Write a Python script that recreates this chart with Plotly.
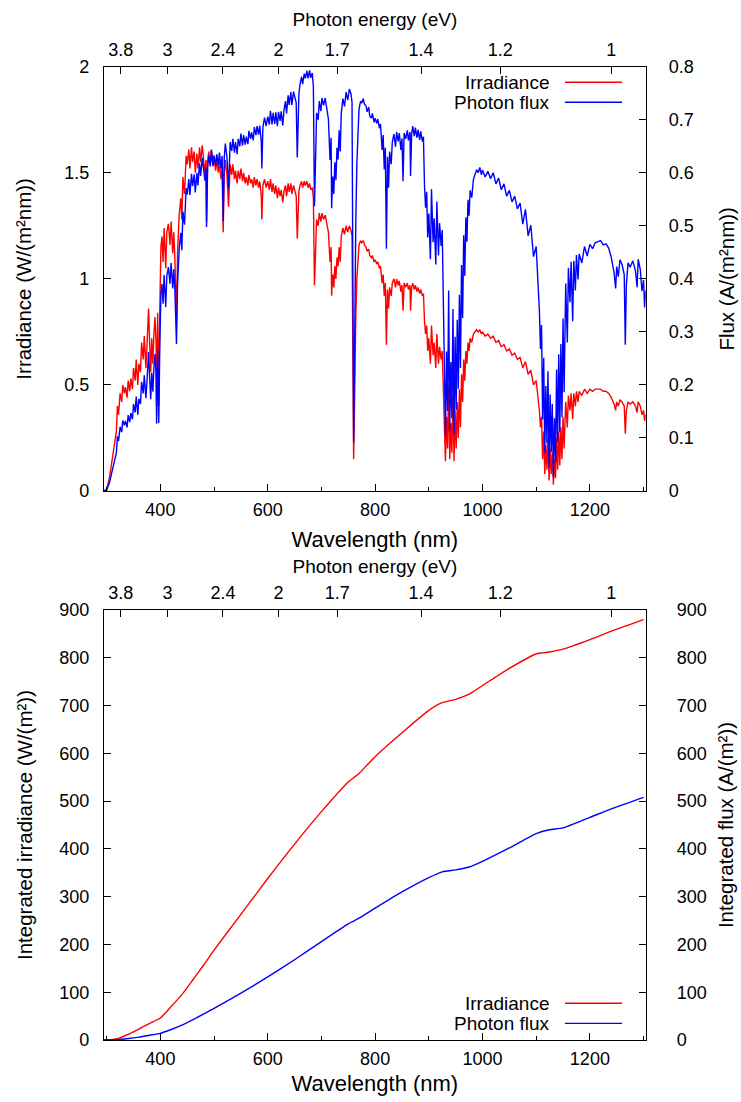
import plotly.graph_objects as go

# ---------------- data ----------------
wavelength_nm = [
    295, 300, 305, 310, 315, 318, 320, 322, 325, 328, 330, 333, 335, 338, 340, 343, 345, 348, 350, 353,
    355, 358, 360, 363, 365, 368, 370, 373, 375, 378, 380, 382, 384, 386, 388, 390, 392, 393, 395, 397,
    399, 401, 403, 405, 407, 410, 412, 415, 418, 420, 423, 425, 427, 430, 432, 435, 438, 440, 442, 445,
    448, 450, 453, 455, 458, 460, 463, 465, 468, 470, 473, 475, 478, 480, 483, 485, 486, 488, 490, 493,
    495, 498, 500, 503, 505, 508, 510, 513, 515, 517, 519, 521, 524, 527, 530, 533, 535, 538, 540, 543,
    545, 548, 550, 553, 555, 558, 560, 563, 565, 568, 570, 573, 575, 578, 580, 583, 585, 588, 589, 591,
    594, 597, 600, 603, 605, 608, 610, 613, 615, 618, 620, 623, 625, 628, 630, 633, 635, 638, 640, 643,
    645, 648, 650, 653, 655, 658, 660, 663, 665, 668, 670, 673, 675, 678, 680, 683, 685, 686, 687, 689,
    691, 694, 696, 699, 701, 704, 707, 710, 713, 716, 718, 719, 721, 723, 725, 727, 729, 731, 733, 735,
    737, 740, 743, 746, 749, 752, 755, 757, 758, 759, 760, 761, 762, 764, 766, 768, 770, 773, 775, 778,
    780, 783, 785, 788, 790, 793, 795, 798, 800, 803, 805, 808, 810, 813, 815, 817, 819, 821, 823, 825,
    827, 830, 832, 835, 838, 840, 843, 845, 848, 850, 852, 854, 857, 860, 862, 865, 866, 868, 870, 873,
    875, 878, 880, 883, 885, 888, 890, 892, 894, 896, 898, 900, 903, 905, 908, 910, 913, 915, 918, 920,
    923, 925, 927, 929, 931, 933, 935, 937, 939, 941, 943, 945, 947, 949, 951, 953, 955, 957, 959, 961,
    963, 965, 967, 969, 971, 973, 975, 977, 980, 983, 986, 989, 992, 995, 998, 1000, 1005, 1010, 1015, 1020,
    1025, 1030, 1035, 1040, 1045, 1050, 1055, 1060, 1065, 1070, 1075, 1080, 1085, 1090, 1095, 1100, 1103, 1106, 1108, 1110,
    1112, 1114, 1116, 1118, 1120, 1122, 1124, 1126, 1128, 1130, 1132, 1134, 1136, 1138, 1140, 1142, 1144, 1146, 1148, 1150,
    1152, 1155, 1158, 1160, 1163, 1165, 1168, 1170, 1173, 1175, 1178, 1180, 1185, 1190, 1195, 1200, 1205, 1210, 1215, 1220,
    1225, 1230, 1235, 1240, 1245, 1248, 1250, 1253, 1256, 1260, 1264, 1266, 1268, 1271, 1275, 1280, 1285, 1288, 1290, 1294,
    1297, 1300, 1302, 1304,
]

irradiance = [
    0.00, 0.01, 0.06, 0.15, 0.24, 0.28, 0.40, 0.36, 0.46, 0.42, 0.50, 0.46, 0.49, 0.44, 0.52, 0.47, 0.53, 0.48, 0.58, 0.52,
    0.62, 0.50, 0.60, 0.56, 0.70, 0.62, 0.73, 0.58, 0.68, 0.86, 0.70, 0.56, 0.72, 0.60, 0.74, 0.82, 0.70, 0.40, 0.84, 0.40,
    0.86, 1.15, 1.20, 1.08, 1.24, 1.05, 1.22, 1.26, 1.16, 1.27, 1.12, 1.22, 1.10, 0.80, 1.12, 1.30, 1.38, 1.28, 1.48, 1.40,
    1.58, 1.54, 1.61, 1.52, 1.62, 1.55, 1.60, 1.50, 1.59, 1.52, 1.62, 1.55, 1.63, 1.57, 1.50, 1.56, 1.27, 1.55, 1.60, 1.54,
    1.61, 1.53, 1.57, 1.51, 1.56, 1.50, 1.55, 1.47, 1.52, 1.22, 1.50, 1.56, 1.49, 1.34, 1.54, 1.49, 1.54, 1.47, 1.51, 1.45,
    1.51, 1.47, 1.52, 1.46, 1.50, 1.45, 1.48, 1.44, 1.49, 1.45, 1.47, 1.43, 1.48, 1.44, 1.47, 1.43, 1.46, 1.39, 1.28, 1.44,
    1.47, 1.43, 1.46, 1.42, 1.47, 1.41, 1.45, 1.40, 1.44, 1.38, 1.43, 1.39, 1.42, 1.36, 1.41, 1.44, 1.39, 1.45, 1.41, 1.45,
    1.40, 1.44, 1.42, 1.39, 1.19, 1.41, 1.44, 1.46, 1.43, 1.46, 1.44, 1.46, 1.43, 1.45, 1.42, 1.43, 1.38, 1.15, 0.97, 1.12,
    1.28, 1.25, 1.31, 1.27, 1.31, 1.28, 1.30, 1.26, 1.22, 1.08, 1.15, 0.92, 1.02, 0.96, 1.06, 1.00, 1.10, 1.06, 1.15, 1.08,
    1.20, 1.24, 1.21, 1.25, 1.22, 1.25, 1.23, 1.20, 0.90, 0.45, 0.15, 0.30, 0.55, 0.82, 1.00, 1.10, 1.16, 1.18, 1.17, 1.18,
    1.16, 1.15, 1.13, 1.14, 1.11, 1.10, 1.11, 1.08, 1.09, 1.07, 1.08, 1.05, 1.06, 0.98, 1.02, 0.92, 0.98, 0.69, 0.95, 0.86,
    0.96, 0.92, 0.98, 1.00, 0.96, 1.00, 0.97, 0.99, 0.94, 0.97, 0.85, 0.98, 0.96, 0.98, 0.95, 0.97, 0.85, 0.96, 0.98, 0.95,
    0.97, 0.94, 0.96, 0.93, 0.95, 0.92, 0.93, 0.80, 0.74, 0.78, 0.66, 0.72, 0.60, 0.78, 0.64, 0.70, 0.58, 0.74, 0.60, 0.68,
    0.62, 0.66, 0.45, 0.25, 0.14, 0.35, 0.20, 0.50, 0.15, 0.32, 0.18, 0.45, 0.14, 0.38, 0.20, 0.42, 0.25, 0.48, 0.30, 0.55,
    0.42, 0.62, 0.52, 0.66, 0.60, 0.70, 0.66, 0.72, 0.70, 0.74, 0.75, 0.76, 0.75, 0.76, 0.74, 0.75, 0.73, 0.74, 0.72, 0.73,
    0.70, 0.71, 0.68, 0.69, 0.66, 0.67, 0.64, 0.65, 0.62, 0.63, 0.58, 0.61, 0.55, 0.57, 0.50, 0.52, 0.45, 0.38, 0.30, 0.35,
    0.15, 0.28, 0.08, 0.22, 0.10, 0.25, 0.05, 0.20, 0.08, 0.18, 0.03, 0.15, 0.06, 0.25, 0.10, 0.28, 0.12, 0.30, 0.15, 0.35,
    0.20, 0.42, 0.30, 0.45, 0.38, 0.46, 0.34, 0.46, 0.40, 0.47, 0.42, 0.47, 0.45, 0.48, 0.46, 0.48, 0.47, 0.48, 0.48, 0.48,
    0.47, 0.47, 0.46, 0.44, 0.41, 0.38, 0.42, 0.40, 0.43, 0.42, 0.40, 0.27, 0.38, 0.42, 0.41, 0.42, 0.40, 0.37, 0.42, 0.40,
    0.36, 0.38, 0.33, 0.36,
]

photon_flux = [
    0.000, 0.002, 0.015, 0.038, 0.061, 0.072, 0.103, 0.094, 0.121, 0.111, 0.133, 0.124, 0.132, 0.120, 0.143, 0.130, 0.147, 0.135, 0.164, 0.148,
    0.178, 0.144, 0.174, 0.164, 0.206, 0.184, 0.218, 0.175, 0.206, 0.262, 0.215, 0.173, 0.223, 0.187, 0.232, 0.258, 0.221, 0.127, 0.268, 0.128,
    0.277, 0.372, 0.390, 0.353, 0.407, 0.347, 0.405, 0.422, 0.391, 0.430, 0.382, 0.418, 0.379, 0.277, 0.390, 0.456, 0.487, 0.454, 0.527, 0.502,
    0.571, 0.559, 0.588, 0.558, 0.598, 0.575, 0.597, 0.563, 0.600, 0.576, 0.618, 0.594, 0.628, 0.608, 0.585, 0.610, 0.498, 0.610, 0.632, 0.612,
    0.643, 0.614, 0.633, 0.613, 0.635, 0.615, 0.638, 0.608, 0.632, 0.509, 0.628, 0.655, 0.630, 0.570, 0.658, 0.641, 0.664, 0.638, 0.658, 0.635,
    0.664, 0.650, 0.674, 0.651, 0.671, 0.653, 0.668, 0.654, 0.679, 0.664, 0.676, 0.661, 0.686, 0.671, 0.688, 0.672, 0.689, 0.659, 0.608, 0.686,
    0.704, 0.688, 0.706, 0.691, 0.717, 0.691, 0.713, 0.692, 0.714, 0.688, 0.715, 0.698, 0.716, 0.689, 0.716, 0.735, 0.712, 0.746, 0.728, 0.752,
    0.728, 0.753, 0.744, 0.732, 0.629, 0.748, 0.766, 0.781, 0.767, 0.787, 0.778, 0.792, 0.778, 0.793, 0.779, 0.788, 0.762, 0.636, 0.537, 0.622,
    0.713, 0.700, 0.735, 0.716, 0.741, 0.727, 0.741, 0.721, 0.701, 0.624, 0.666, 0.533, 0.593, 0.560, 0.620, 0.586, 0.647, 0.625, 0.680, 0.640,
    0.713, 0.740, 0.725, 0.752, 0.737, 0.758, 0.749, 0.733, 0.550, 0.276, 0.092, 0.184, 0.338, 0.505, 0.618, 0.681, 0.720, 0.735, 0.731, 0.740,
    0.730, 0.726, 0.715, 0.724, 0.707, 0.703, 0.712, 0.695, 0.703, 0.693, 0.701, 0.684, 0.692, 0.643, 0.671, 0.606, 0.647, 0.457, 0.630, 0.572,
    0.640, 0.616, 0.658, 0.673, 0.649, 0.677, 0.659, 0.675, 0.643, 0.665, 0.584, 0.675, 0.664, 0.680, 0.661, 0.677, 0.594, 0.672, 0.688, 0.669,
    0.685, 0.666, 0.681, 0.662, 0.678, 0.659, 0.668, 0.575, 0.534, 0.564, 0.478, 0.523, 0.437, 0.569, 0.469, 0.514, 0.427, 0.546, 0.444, 0.505,
    0.462, 0.492, 0.336, 0.187, 0.105, 0.263, 0.151, 0.378, 0.114, 0.243, 0.137, 0.343, 0.107, 0.291, 0.153, 0.323, 0.193, 0.370, 0.232, 0.426,
    0.326, 0.482, 0.406, 0.516, 0.470, 0.549, 0.519, 0.567, 0.553, 0.587, 0.596, 0.606, 0.600, 0.610, 0.596, 0.605, 0.592, 0.603, 0.589, 0.600,
    0.579, 0.590, 0.568, 0.579, 0.556, 0.567, 0.545, 0.556, 0.532, 0.543, 0.503, 0.531, 0.481, 0.501, 0.442, 0.461, 0.400, 0.339, 0.268, 0.313,
    0.135, 0.251, 0.072, 0.198, 0.090, 0.226, 0.045, 0.182, 0.073, 0.164, 0.027, 0.137, 0.055, 0.229, 0.092, 0.258, 0.111, 0.277, 0.139, 0.325,
    0.186, 0.391, 0.280, 0.421, 0.356, 0.432, 0.320, 0.434, 0.378, 0.445, 0.399, 0.447, 0.430, 0.461, 0.443, 0.465, 0.457, 0.468, 0.470, 0.472,
    0.464, 0.466, 0.458, 0.440, 0.412, 0.382, 0.423, 0.404, 0.436, 0.427, 0.408, 0.276, 0.389, 0.430, 0.422, 0.434, 0.415, 0.384, 0.437, 0.417,
    0.377, 0.398, 0.346, 0.378,
]

# integrated quantities (bottom panel)
int_wavelength_nm = [295, 300, 320, 340, 360, 380, 400, 420, 440, 460, 480, 500, 550, 600, 650, 700, 750, 760, 770,
                     800, 850, 900, 925, 950, 975, 1000, 1050, 1100, 1125, 1150, 1200, 1250, 1300]
int_irradiance = [0, 0.1, 3, 12, 23, 35, 46, 70, 95, 125, 156, 188, 263, 338, 410, 478, 540, 549, 558,
                  593, 643, 690, 706, 713, 724, 742, 778, 808, 812, 818, 838, 860, 880]
int_flux = [0, 0, 0.8, 3, 6, 10, 14, 22, 31, 42, 54, 66, 98, 132, 168, 206, 243, 249, 255,
            276, 310, 340, 352, 356, 362, 374, 402, 432, 440, 444, 466, 488, 508]

energy_ticks_ev = [3.8, 3, 2.4, 2, 1.7, 1.4, 1.2, 1]
energy_tick_text = ["3.8", "3", "2.4", "2", "1.7", "1.4", "1.2", "1"]
HC_EV_NM = 1239.84

X_RANGE = [295, 1304]

# ---------------- layout geometry ----------------
W, H = 741, 1102
FONT = "Liberation Sans, Arial, sans-serif"
TICK_FS = 18
TITLE_FS = 20.5
LEG_FS = 19
RED = "#ff0000"
BLUE = "#0000ff"

XL, XR = 104, 645.7
TOP = (66.7, 491.0)
BOT = (610.0, 1040.0)


def fx(x):
    return x / W


def fy(y):
    return 1 - y / H


energy_tick_wl = [HC_EV_NM / e for e in energy_ticks_ev]

fig = go.Figure()

# top panel
fig.add_trace(go.Scatter(x=wavelength_nm, y=irradiance, mode="lines", xaxis="x", yaxis="y",
                         line=dict(color=RED, width=1.4), showlegend=False))
fig.add_trace(go.Scatter(x=wavelength_nm, y=photon_flux, mode="lines", xaxis="x", yaxis="y2",
                         line=dict(color=BLUE, width=1.4), showlegend=False))
# anchor trace for the photon-energy axis (no points)
fig.add_trace(go.Scatter(x=[], y=[], mode="lines", xaxis="x2", yaxis="y", showlegend=False,
                         hoverinfo="skip"))
# bottom panel
fig.add_trace(go.Scatter(x=int_wavelength_nm, y=int_irradiance, mode="lines", xaxis="x3", yaxis="y3",
                         line=dict(color=RED, width=1.4, shape="spline", smoothing=0.6), showlegend=False))
fig.add_trace(go.Scatter(x=int_wavelength_nm, y=int_flux, mode="lines", xaxis="x3", yaxis="y4",
                         line=dict(color=BLUE, width=1.4, shape="spline", smoothing=0.6), showlegend=False))
fig.add_trace(go.Scatter(x=[], y=[], mode="lines", xaxis="x4", yaxis="y3", showlegend=False,
                         hoverinfo="skip"))

tickfont = dict(family=FONT, size=TICK_FS, color="black")
common = dict(showgrid=False, zeroline=False, ticks="inside", tickcolor="black",
              tickwidth=1, tickfont=tickfont, automargin=False)


def ttl(txt, size, standoff):
    return dict(text=txt, font=dict(family=FONT, size=size, color="black"), standoff=standoff)


wl_axis = dict(common, range=X_RANGE, domain=[fx(XL), fx(XR)], tickmode="linear", tick0=400, dtick=200,
               ticklen=7, showline=True, linecolor="black", linewidth=1.2, mirror=True,
               minor=dict(ticks="inside", ticklen=4, tickmode="linear", tick0=300, dtick=100,
                          tickcolor="black", showgrid=False),
               ticklabelstandoff=2)
en_axis = dict(common, range=X_RANGE, side="top", tickmode="array", tickvals=energy_tick_wl,
               ticktext=energy_tick_text, ticklen=7, showline=False, ticklabelstandoff=6)

fig.update_layout(
    width=W, height=H,
    margin=dict(l=0, r=0, t=0, b=0, pad=0, autoexpand=False),
    showlegend=False,
    paper_bgcolor="white", plot_bgcolor="white",
    font=dict(family=FONT, size=TICK_FS, color="black"),
    xaxis=dict(wl_axis, anchor="y", title=ttl("Wavelength (nm)", 22, 12)),
    xaxis2=dict(en_axis, overlaying="x", anchor="y", title=ttl("Photon energy (eV)", LEG_FS, 8)),
    yaxis=dict(common, domain=[fy(TOP[1]), fy(TOP[0])], anchor="x", range=[0, 2], dtick=0.5, tick0=0,
               ticklen=7, showline=True, linecolor="black", linewidth=1.2, mirror=True,
               ticklabelstandoff=10,
               title=ttl("Irradiance (W/(m²nm))", TITLE_FS, 27)),
    yaxis2=dict(common, overlaying="y", side="right", anchor="x", range=[0, 0.8], dtick=0.1, tick0=0,
                ticklen=7, showline=False, ticklabelstandoff=22,
                title=ttl("Flux (A/(m²nm))", TITLE_FS, 26)),
    xaxis3=dict(wl_axis, anchor="y3", title=ttl("Wavelength (nm)", 22, 7)),
    xaxis4=dict(en_axis, overlaying="x3", anchor="y3", title=ttl("Photon energy (eV)", LEG_FS, 4)),
    yaxis3=dict(common, domain=[fy(BOT[1]), fy(BOT[0])], anchor="x3", range=[0, 900], dtick=100, tick0=0,
                ticklen=7, showline=True, linecolor="black", linewidth=1.2, mirror=True,
                ticklabelstandoff=10,
                title=ttl("Integrated irradiance (W/(m²))", TITLE_FS, 21)),
    yaxis4=dict(common, overlaying="y3", side="right", anchor="x3", range=[0, 900], dtick=100, tick0=0,
                ticklen=7, showline=False, ticklabelstandoff=30,
                title=ttl("Integrated flux (A/(m²))", TITLE_FS, 12)),
)

ann = []
shapes = []
legend_rows = [("Irradiance", RED, 82.3, 1003.2), ("Photon flux", BLUE, 102.3, 1023.4)]
for label, color, ytop, ybot in legend_rows:
    for yy in (ytop, ybot):
        ann.append(dict(x=fx(552), y=fy(yy), xref="paper", yref="paper", text=label, showarrow=False,
                        xanchor="right", yanchor="middle", height=17, valign="middle",
                        font=dict(family=FONT, size=LEG_FS, color="black")))
        shapes.append(dict(type="line", xref="paper", yref="paper", x0=fx(565), x1=fx(622),
                           y0=fy(yy), y1=fy(yy), line=dict(color=color, width=1.4)))

fig.update_layout(annotations=ann, shapes=shapes)
fig.write_html("out.html")
